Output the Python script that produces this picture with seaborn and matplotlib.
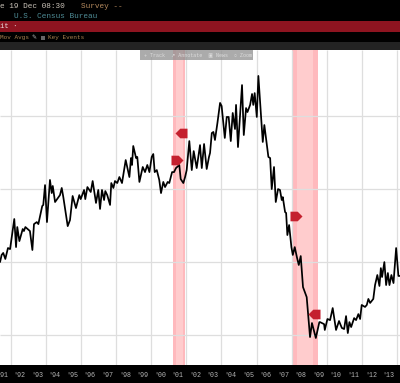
import numpy as np
import matplotlib
matplotlib.use("Agg")
import matplotlib.pyplot as plt
from matplotlib.patches import Rectangle
import seaborn as sns

dates = [1991.40,1991.49,1991.58,1991.70,1991.85,1991.97,1992.21,1992.31,1992.38,1992.50,1992.69,1992.76,1992.84,
1993.10,1993.24,1993.33,1993.49,1993.58,1993.80,1993.86,1993.96,1994.07,1994.24,1994.34,1994.40,1994.53,1994.81,1994.91,
1995.00,1995.25,1995.38,1995.53,1995.72,1995.91,1995.99,1996.18,1996.25,1996.37,1996.56,1996.67,1996.86,1996.99,
1997.09,1997.20,1997.32,1997.39,1997.50,1997.66,1997.73,1997.85,1997.94,1998.07,1998.19,1998.34,1998.55,1998.76,1998.85,1998.91,1998.98,
1999.14,1999.21,1999.33,1999.52,1999.65,1999.78,1999.90,2000.03,2000.12,2000.20,2000.32,2000.46,2000.56,2000.69,2000.79,2000.94,
2001.03,2001.19,2001.30,2001.41,2001.60,2001.68,2001.83,2001.93,2002.02,2002.17,2002.31,2002.42,2002.59,2002.78,2002.88,
2003.01,2003.16,2003.29,2003.35,2003.45,2003.54,2003.63,2003.77,2003.92,2004.01,2004.19,2004.30,2004.41,2004.53,2004.64,2004.77,2004.83,2004.94,
2005.17,2005.27,2005.40,2005.48,2005.63,2005.74,2005.81,2005.89,2006.01,2006.10,2006.35,2006.44,2006.67,2006.77,2006.86,2006.99,
2007.09,2007.22,2007.33,2007.43,2007.49,2007.62,2007.68,2007.75,2007.85,2007.98,2008.06,2008.17,2008.29,2008.40,2008.51,2008.64,2008.85,
2009.04,2009.15,2009.37,2009.57,2009.61,2009.84,2009.88,2010.03,2010.18,2010.33,2010.52,2010.69,2010.85,2010.98,
2011.09,2011.19,2011.28,2011.38,2011.55,2011.66,2011.79,2011.89,2011.98,2012.17,2012.27,2012.36,2012.46,2012.64,2012.74,2012.87,2012.99,
2013.07,2013.14,2013.27,2013.37,2013.47,2013.56,2013.67,2013.79,2013.94,2014.07,2014.16]
values = [800,839,850,817,877,871,1036,882,992,915,981,970,992,
970,866,1008,1019,1008,1107,1113,1222,1019,1250,1178,1217,1129,1167,1206,
1156,997,1030,1162,1096,1167,1145,1195,1145,1211,1184,1244,1124,1195,
1091,1195,1140,1189,1167,1113,1233,1206,1244,1233,1266,1233,1359,1266,1370,1332,1436,
1370,1376,1239,1321,1293,1332,1293,1376,1392,1293,1304,1250,1178,1239,1211,1239,
1233,1293,1293,1315,1332,1255,1233,1266,1304,1463,1304,1408,1315,1441,1315,
1447,1310,1376,1398,1507,1513,1469,1562,1672,1655,1480,1595,1595,1463,1617,1529,1661,1430,
1770,1496,1644,1622,1661,1721,1661,1726,1595,1820,1458,1551,1376,1370,1200,1321,
1129,1200,1195,1140,1156,1074,1069,948,1003,882,839,882,828,784,833,663,608,
389,466,384,471,471,460,428,488,482,548,428,477,439,433,
504,411,471,444,493,482,515,488,565,554,565,598,576,598,674,729,669,
767,718,800,674,740,674,729,685,877,724,724]

rec_start = [2001.26, 2008.0]
rec_end = [2001.93, 2009.5]
year_ticks = list(range(1991, 2014))
year_labels = ["'91","'92","'93","'94","'95","'96","'97","'98","'99","'00","'01","'02",
               "'03","'04","'05","'06","'07","'08","'09","'10","'11","'12","'13"]
y_grid = [400, 800, 1200, 1600]
event_right_x = [2001.47, 2008.24]
event_right_y = [1359, 1052]
event_left_x = [2001.70, 2009.27]
event_left_y = [1507, 515]

sns.set_theme(style="white")
plt.rcParams['font.family'] = ['Liberation Mono', 'DejaVu Sans']

W, H = 400, 383
XMIN, XMAX, YMIN, YMAX = 1991.397, 2014.16, 236, 1962
fig = plt.figure(figsize=(W/100, H/100), dpi=100, facecolor='black')
ax = fig.add_axes([0, 18/H, 1, 315/H])
ax.set_facecolor('white')

for a, b in zip(rec_start, rec_end):
    w = b - a
    ax.axvspan(a, b, color='#ffb9bd', lw=0, zorder=1)
    ax.axvspan(a + 0.2*w, b - 0.2*w, color='#ffcccd', lw=0, zorder=1)

ax.hlines(y_grid, XMIN, XMAX, color='#dedede', lw=0.9, zorder=2)
ax.vlines([y for y in range(1992, 2015, 2)], YMIN, YMAX, color='#dedede', lw=0.9, zorder=2)

sns.lineplot(x=dates, y=values, estimator=None, sort=False, color='black', lw=1.25, ax=ax, zorder=3)

right_tag = [(-1, -0.8), (0.2, -0.8), (1, 0), (0.2, 0.8), (-1, 0.8), (-1, -0.8)]
left_tag = [(-x, y) for x, y in right_tag]
ax.scatter(event_right_x, event_right_y, marker=right_tag, s=75, color='#c4202e', lw=0, zorder=4)
ax.scatter(event_left_x, event_left_y, marker=left_tag, s=75, color='#c4202e', lw=0, zorder=4)

ax.set_xticks([y + 0.5 for y in year_ticks])
ax.set_xticklabels(year_labels)
ax.tick_params(axis='x', which='major', length=0, pad=5, labelsize=4.8, labelcolor='#b5b5b5')
ax.set_xticks(year_ticks + [2014], minor=True)
ax.tick_params(axis='x', which='minor', length=4, width=0.5, color='#777777', direction='out')
ax.set_yticks(y_grid)
ax.set_yticklabels([])
ax.tick_params(axis='y', length=0)
ax.set_xlim(XMIN, XMAX)
ax.set_ylim(YMIN, YMAX)
ax.set_xlabel('')
ax.set_ylabel('')
for s in ax.spines.values():
    s.set_visible(False)

def band(y0, y1, color, x0=0, x1=W, alpha=1, z=5):
    fig.add_artist(Rectangle((x0/W, 1-y1/H), (x1-x0)/W, (y1-y0)/H, transform=fig.transFigure,
                             facecolor=color, edgecolor='none', alpha=alpha, zorder=z))

def txt(x, y, s, color, size=5.5, z=6, **kw):
    fig.text(x/W, 1-y/H, s, color=color, fontsize=size, va='center', ha='left', zorder=z, **kw)

band(21, 31.5, '#8e1420')
band(42, 50, '#232323')
band(50, 60, '#8f8f8f', x0=140, x1=253, alpha=0.75)

txt(0, 7, "e 19 Dec 08:30", '#c9c2b8', size=5.6)
txt(81, 7, "Survey --", '#b58a5e', size=5.6)
txt(14, 16.5, "U.S. Census Bureau", '#4f8d97', size=5.6)
txt(0, 26, "it \u00b7", '#e8d9d9', size=5.2)
txt(0, 38, "Mov Avgs", '#a9834f', size=4.3)
txt(31, 38, "\u270e", '#b5b5b5', size=4.3)
band(35.5, 40, '#666666', x0=41, x1=45)
txt(48, 38, "Key Events", '#a9834f', size=4.3)
txt(144, 55, "+ Track  \u2197 Annotate  \u25a3 News  \u25cb Zoom", '#dddddd', size=3.6)

fig.savefig('out.png', dpi=100, facecolor='black')
